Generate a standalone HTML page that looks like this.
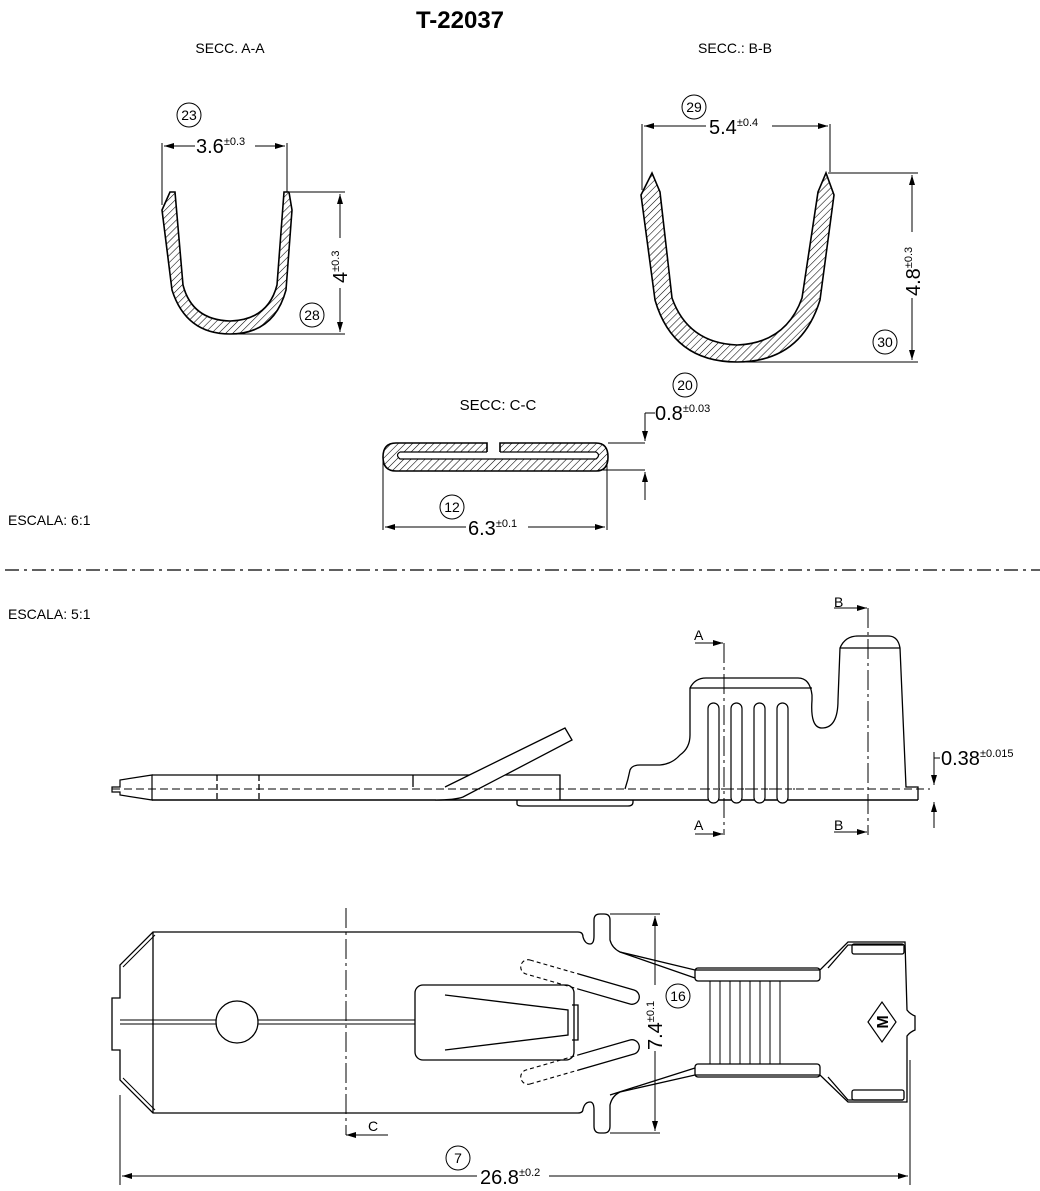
<!DOCTYPE html>
<html><head><meta charset="utf-8"><style>
html,body{margin:0;padding:0;background:#fff;}
svg{display:block;}
text{font-family:"Liberation Sans",sans-serif;fill:#000;}
</style></head><body>
<svg width="1040" height="1191" viewBox="0 0 1040 1191" xmlns="http://www.w3.org/2000/svg">
<defs>
<pattern id="h" width="5" height="5" patternUnits="userSpaceOnUse" patternTransform="rotate(45)">
<line x1="0" y1="0" x2="0" y2="5" stroke="#000" stroke-width="1.1"/>
</pattern>
<marker id="a" viewBox="0 0 10 6" refX="10" refY="3" markerWidth="10" markerHeight="6" orient="auto-start-reverse"><path d="M0,0 L10,3 L0,6 Z" fill="#000"/></marker>
<clipPath id="cl"><rect x="0" y="0" width="578" height="1191"/></clipPath>
<clipPath id="cr"><rect x="578" y="0" width="500" height="1191"/></clipPath>
</defs>
<g fill="none" stroke="#000" stroke-width="1.3">

<text x="460" y="28" font-size="24" font-weight="bold" text-anchor="middle" stroke="none">T-22037</text>
<text x="230" y="53" font-size="14" text-anchor="middle" stroke="none">SECC. A-A</text>
<text x="735" y="53" font-size="14" text-anchor="middle" stroke="none">SECC.: B-B</text>

<!-- Section A-A -->
<path d="M170,192 L175,192 L183,285 Q192,320 230,321 Q268,320 277,285 L284,192 L289,192 L292,210 L286,290 Q274,334 230,334 Q186,334 172,290 L162,210 Z" fill="url(#h)" stroke-width="1.6"/>
<line x1="162" y1="205" x2="162" y2="143" stroke-width="1"/>
<line x1="287" y1="192" x2="287" y2="143" stroke-width="1"/>
<line x1="164" y1="146" x2="285" y2="146" stroke-width="1" marker-start="url(#a)" marker-end="url(#a)"/>
<rect x="195" y="134" width="60" height="20" fill="#fff" stroke="none"/>
<text x="196" y="153" font-size="20" stroke="none">3.6<tspan font-size="11" dy="-8">±0.3</tspan></text>
<circle cx="189" cy="115" r="12" stroke-width="1"/><text x="189" y="120" font-size="14" text-anchor="middle" stroke="none">23</text>
<line x1="290" y1="192" x2="345" y2="192" stroke-width="1"/>
<line x1="232" y1="334" x2="345" y2="334" stroke-width="1"/>
<line x1="340" y1="194" x2="340" y2="332" stroke-width="1" marker-start="url(#a)" marker-end="url(#a)"/>
<rect x="330" y="238" width="20" height="50" fill="#fff" stroke="none"/>
<text transform="translate(347,283) rotate(-90)" font-size="20" stroke="none">4<tspan font-size="11" dy="-8">±0.3</tspan></text>
<circle cx="312" cy="315" r="12" stroke-width="1"/><text x="312" y="320" font-size="14" text-anchor="middle" stroke="none">28</text>

<!-- Section B-B -->
<path d="M641,195 L652,173 L660,192 L672,298 Q688,343 737,345 Q786,343 802,298 L818,192 L826,173 L834,195 L820,300 Q801,362 737,362 Q673,362 655,300 Z" fill="url(#h)" stroke-width="1.6"/>
<line x1="642" y1="190" x2="642" y2="124" stroke-width="1"/>
<line x1="830" y1="172" x2="830" y2="124" stroke-width="1"/>
<line x1="644" y1="126" x2="828" y2="126" stroke-width="1" marker-start="url(#a)" marker-end="url(#a)"/>
<rect x="706" y="114" width="66" height="20" fill="#fff" stroke="none"/>
<text x="709" y="134" font-size="20" stroke="none">5.4<tspan font-size="11" dy="-8">±0.4</tspan></text>
<circle cx="694" cy="107" r="12" stroke-width="1"/><text x="694" y="112" font-size="14" text-anchor="middle" stroke="none">29</text>
<line x1="828" y1="173" x2="918" y2="173" stroke-width="1"/>
<line x1="740" y1="362" x2="918" y2="362" stroke-width="1"/>
<line x1="912" y1="175" x2="912" y2="360" stroke-width="1" marker-start="url(#a)" marker-end="url(#a)"/>
<rect x="902" y="232" width="20" height="66" fill="#fff" stroke="none"/>
<text transform="translate(920,296) rotate(-90)" font-size="20" stroke="none">4.8<tspan font-size="11" dy="-8">±0.3</tspan></text>
<circle cx="885" cy="342" r="12" stroke-width="1"/><text x="885" y="347" font-size="14" text-anchor="middle" stroke="none">30</text>

<!-- Section C-C -->
<text x="498" y="410" font-size="15" text-anchor="middle" stroke="none">SECC: C-C</text>
<path d="M396,443 L487,443 L487,456 L500,456 L500,443 L596,443 Q608,443 608,457 Q608,471 596,471 L396,471 Q383,471 383,457 Q383,443 396,443 Z" fill="url(#h)" stroke-width="1.6"/>
<path d="M400,452 L487,452 M500,452 L596,452 Q601,455 596,459 L400,459 Q395,455 400,452" stroke-width="1.2" fill="#fff"/>
<line x1="608" y1="443" x2="645" y2="443" stroke-width="1"/>
<line x1="598" y1="470" x2="645" y2="470" stroke-width="1"/>
<line x1="645" y1="413" x2="645" y2="441" stroke-width="1" marker-end="url(#a)"/>
<line x1="645" y1="500" x2="645" y2="472" stroke-width="1" marker-end="url(#a)"/>
<line x1="645" y1="413" x2="655" y2="413" stroke-width="1"/>
<text x="655" y="420" font-size="20" stroke="none">0.8<tspan font-size="11" dy="-8">±0.03</tspan></text>
<circle cx="685" cy="385" r="12" stroke-width="1"/><text x="685" y="390" font-size="14" text-anchor="middle" stroke="none">20</text>
<line x1="383" y1="460" x2="383" y2="530" stroke-width="1"/>
<line x1="607" y1="460" x2="607" y2="530" stroke-width="1"/>
<line x1="385" y1="527" x2="605" y2="527" stroke-width="1" marker-start="url(#a)" marker-end="url(#a)"/>
<rect x="466" y="514" width="62" height="20" fill="#fff" stroke="none"/>
<text x="468" y="535" font-size="20" stroke="none">6.3<tspan font-size="11" dy="-8">±0.1</tspan></text>
<circle cx="452" cy="507" r="12" stroke-width="1"/><text x="452" y="512" font-size="14" text-anchor="middle" stroke="none">12</text>

<text x="8" y="525" font-size="14" stroke="none">ESCALA: 6:1</text>
<line x1="5" y1="570" x2="1040" y2="570" stroke-width="1.2" stroke-dasharray="14,5,3,5"/>
<text x="8" y="619" font-size="14" stroke="none">ESCALA:  5:1</text>

<!-- Side view -->
<path d="M112,787 L120,787 L120,780 L152,775 L152,800 L120,795 L120,792 L112,792 Z" stroke-width="1.2"/>
<path d="M152,775 L560,775 L560,800" />
<line x1="152" y1="800" x2="918" y2="800" stroke-width="1.6"/>
<line x1="217" y1="775" x2="217" y2="800" stroke-dasharray="6,3"/>
<line x1="259" y1="775" x2="259" y2="800" stroke-dasharray="6,3"/>
<line x1="413" y1="775" x2="413" y2="787"/>
<path d="M445,787 L565,728 L572,740 L463,797 Q455,800 435,800" fill="#fff"/>
<line x1="112" y1="789" x2="930" y2="789" stroke-width="1" stroke-dasharray="8,4"/>
<path d="M517,800 L517,804 Q517,806 522,806 L628,806 Q633,806 633,802 L633,800"/>
<path d="M625,789 Q628,780 630,770 Q632,765 640,765 L660,765 Q672,764 680,755 Q690,748 690,735 L690,688 Q695,678 706,678 L798,678 Q810,678 812,695 L812,700 Q810,728 822,728 Q838,728 838,700 L840,648 Q845,636 858,636 L888,636 Q898,636 900,648 L906,787 L918,787 L918,800"/>
<line x1="690" y1="688" x2="812" y2="688"/>
<line x1="840" y1="648" x2="900" y2="648"/>
<g stroke-width="1.2">
<rect x="708" y="703" width="11" height="100" rx="5.5" fill="#fff"/>
<rect x="731" y="703" width="11" height="100" rx="5.5" fill="#fff"/>
<rect x="754" y="703" width="11" height="100" rx="5.5" fill="#fff"/>
<rect x="777" y="703" width="11" height="100" rx="5.5" fill="#fff"/>
</g>
<line x1="705" y1="789" x2="795" y2="789" stroke-width="1" stroke-dasharray="5,3"/>
<line x1="724" y1="643" x2="724" y2="835" stroke-width="1" stroke-dasharray="20,4,3,4"/>
<line x1="868" y1="608" x2="868" y2="835" stroke-width="1" stroke-dasharray="20,4,3,4"/>
<line x1="695" y1="643" x2="723" y2="643" stroke-width="1" marker-end="url(#a)"/>
<line x1="695" y1="834" x2="723" y2="834" stroke-width="1" marker-end="url(#a)"/>
<line x1="834" y1="608" x2="867" y2="608" stroke-width="1" marker-end="url(#a)"/>
<line x1="834" y1="832" x2="867" y2="832" stroke-width="1" marker-end="url(#a)"/>
<text x="694" y="640" font-size="14" stroke="none">A</text>
<text x="694" y="830" font-size="14" stroke="none">A</text>
<text x="834" y="607" font-size="14" stroke="none">B</text>
<text x="834" y="830" font-size="14" stroke="none">B</text>
<line x1="934" y1="752" x2="934" y2="785" stroke-width="1" marker-end="url(#a)"/>
<line x1="934" y1="828" x2="934" y2="802" stroke-width="1" marker-end="url(#a)"/>
<line x1="934" y1="758" x2="940" y2="758" stroke-width="1"/>
<text x="941" y="765" font-size="20" stroke="none">0.38<tspan font-size="11" dy="-8">±0.015</tspan></text>

<!-- Top view -->
<path d="M153,932 L578,932 Q583,932 583,937 Q585,944 590,944 Q594,944 594,936 L594,920 Q594,914 600,914 L604,914 Q610,914 610,920 L610,940 Q612,948 620,952 L695,970 L820,970 L848,942 L905,942 L907,1010 Q910,1014 915,1016 L915,1030 Q910,1032 907,1036 L907,1102 L848,1102 L820,1075 L695,1075 L620,1092 Q612,1096 610,1105 L610,1126 Q610,1133 604,1133 L600,1133 Q594,1133 594,1126 L594,1110 Q594,1102 590,1102 Q585,1102 583,1109 Q583,1113 578,1113 L153,1113 L120,1080 L120,1050 L112,1050 L112,998 L120,998 L120,965 Z"/>
<line x1="153" y1="932" x2="153" y2="1113"/>
<path d="M123,967 L155,935 M123,1078 L155,1110" stroke-width="1"/>
<line x1="120" y1="1020" x2="415" y2="1020" stroke-width="1"/>
<line x1="120" y1="1024" x2="415" y2="1024" stroke-width="1"/>
<ellipse cx="237" cy="1022" rx="21" ry="21" fill="#fff"/>
<rect x="415" y="985" width="159" height="75" rx="8" fill="#fff"/>
<path d="M445,995 L568,1010 L568,1035 L445,1050" />
<path d="M572,1005 L578,1005 L578,1040 L572,1040"/>
<!-- slots -->
<path d="M530,960 L634,990 A7,7 0 0 1 630,1004 L526,974 A7,7 0 0 1 530,960 Z" clip-path="url(#cl)" stroke-dasharray="4,3" stroke-width="1.1"/>
<path d="M530,960 L634,990 A7,7 0 0 1 630,1004 L526,974 A7,7 0 0 1 530,960 Z" clip-path="url(#cr)"/>
<path d="M530,1084 L634,1054 A7,7 0 0 0 630,1040 L526,1070 A7,7 0 0 0 530,1084 Z" clip-path="url(#cl)" stroke-dasharray="4,3" stroke-width="1.1"/>
<path d="M530,1084 L634,1054 A7,7 0 0 0 630,1040 L526,1070 A7,7 0 0 0 530,1084 Z" clip-path="url(#cr)"/>
<path d="M620,952 L695,978 M610,1095 L695,1068"/>
<rect x="695" y="968" width="125" height="13" rx="3"/>
<rect x="695" y="1064" width="125" height="13" rx="3"/>
<g stroke-width="1">
<line x1="710" y1="981" x2="710" y2="1064"/><line x1="720" y1="981" x2="720" y2="1064"/>
<line x1="730" y1="981" x2="730" y2="1064"/><line x1="740" y1="981" x2="740" y2="1064"/>
<line x1="750" y1="981" x2="750" y2="1064"/><line x1="760" y1="981" x2="760" y2="1064"/>
<line x1="770" y1="981" x2="770" y2="1064"/><line x1="780" y1="981" x2="780" y2="1064"/>
</g>
<path d="M828,968 L848,945 L903,945 M828,1077 L848,1100 L903,1100"/>
<rect x="852" y="944" width="52" height="10" rx="2"/>
<rect x="852" y="1090" width="52" height="10" rx="2"/>
<path d="M868,1022 L882,1002 L896,1022 L882,1042 Z" stroke-width="1.2"/>
<text x="882" y="1028" font-size="16" font-weight="bold" text-anchor="middle" stroke="none" font-family="Liberation Serif" transform="rotate(-90 882 1022)">M</text>
<line x1="346" y1="908" x2="346" y2="1135" stroke-width="1" stroke-dasharray="20,4,3,4"/>
<line x1="346" y1="1135" x2="388" y2="1135" stroke-width="1"/>
<line x1="346" y1="1135" x2="380" y2="1135" stroke-width="1" marker-start="url(#a)"/>
<text x="368" y="1131" font-size="14" stroke="none">C</text>
<line x1="610" y1="914" x2="660" y2="914" stroke-width="1"/>
<line x1="610" y1="1133" x2="660" y2="1133" stroke-width="1"/>
<line x1="655" y1="916" x2="655" y2="1131" stroke-width="1" marker-start="url(#a)" marker-end="url(#a)"/>
<rect x="644" y="985" width="22" height="66" fill="#fff" stroke="none"/>
<text transform="translate(662,1050) rotate(-90)" font-size="20" stroke="none">7.4<tspan font-size="11" dy="-8">±0.1</tspan></text>
<circle cx="678" cy="996" r="12" stroke-width="1"/><text x="678" y="1001" font-size="14" text-anchor="middle" stroke="none">16</text>
<line x1="120" y1="1095" x2="120" y2="1185" stroke-width="1"/>
<line x1="910" y1="1060" x2="910" y2="1185" stroke-width="1"/>
<line x1="122" y1="1176" x2="908" y2="1176" stroke-width="1" marker-start="url(#a)" marker-end="url(#a)"/>
<rect x="477" y="1164" width="72" height="22" fill="#fff" stroke="none"/>
<text x="480" y="1184" font-size="20" stroke="none">26.8<tspan font-size="11" dy="-8">±0.2</tspan></text>
<circle cx="458" cy="1158" r="12" stroke-width="1"/><text x="458" y="1163" font-size="14" text-anchor="middle" stroke="none">7</text>
</g>
</svg>
</body></html>
